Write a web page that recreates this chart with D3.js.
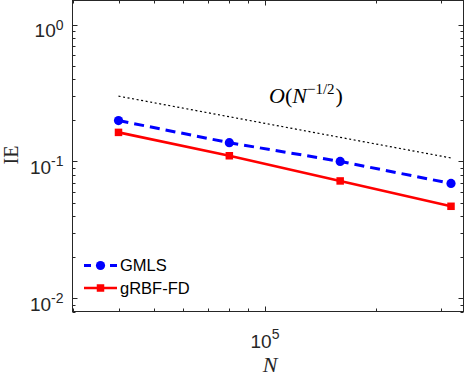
<!DOCTYPE html>
<html>
<head>
<meta charset="utf-8">
<script src="https://cdn.jsdelivr.net/npm/d3@7"></script>
<style>
  body { margin: 0; background: #fff; }
  svg { display: block; }
</style>
</head>
<body>
<svg id="chart" width="465" height="382"></svg>
<script>
// data
const sizesN = [4e4, 8e4, 1.6e5, 3.2e5];
const gmlsIE = [0.199, 0.137, 0.100, 0.069];
const grbfIE = [0.163, 0.110, 0.072, 0.047];
const refN = [4e4, 3.2e5];
const refIE = [0.30, 0.106];
const yTicks = [0.01, 0.1, 1];
const yTickExp = ["-2", "-1", "0"];
const xTicks = [1e5];
const xTickExp = ["5"];
const seriesNames = ["GMLS", "gRBF-FD"];

const svg = d3.select("#chart");
const axisColor = "#262626";
const sans = "'Liberation Sans', Arial, sans-serif";
const serif = "'Liberation Serif', 'Times New Roman', serif";

const plotL = 72.5, plotR = 463.5, plotT = 0.5, plotB = 311.5;

let x = d3.scaleLog().domain([3e4, 3.46e5]).range([plotL, plotR]);
let y = d3.scaleLog().domain([0.008, 1.5]).range([plotB, plotT]);

// minor ticks
let xMinor = [];
for (let d = 1e4; d <= 1e6; d *= 10) {
    for (let k = 1; k < 10; k++) {
        let v = k * d;
        if (v >= 3e4 && v <= 3.46e5) xMinor.push(v);
    }
}
let yMinor = [];
for (let d = 1e-3; d <= 1; d *= 10) {
    for (let k = 1; k < 10; k++) {
        let v = k * d;
        if (v >= 0.008 && v <= 1.5) yMinor.push(v);
    }
}
let isMajor = v => Math.abs(Math.log10(v) - Math.round(Math.log10(v))) < 1e-6;

let tickG = svg.append("g").attr("stroke", axisColor).attr("stroke-width", 1);
for (let v of xMinor) {
    let len = isMajor(v) ? 5 : 3;
    let px = Math.round(x(v)) + 0.5;
    tickG.append("line").attr("x1", px).attr("x2", px).attr("y1", plotB).attr("y2", plotB - len);
    tickG.append("line").attr("x1", px).attr("x2", px).attr("y1", plotT).attr("y2", plotT + len);
}
for (let v of yMinor) {
    let len = isMajor(v) ? 5 : 3;
    let py = Math.round(y(v)) + 0.5;
    tickG.append("line").attr("x1", plotL).attr("x2", plotL + len).attr("y1", py).attr("y2", py);
    tickG.append("line").attr("x1", plotR).attr("x2", plotR - len).attr("y1", py).attr("y2", py);
}

// box
svg.append("rect")
    .attr("x", plotL).attr("y", plotT)
    .attr("width", plotR - plotL).attr("height", plotB - plotT)
    .attr("fill", "none").attr("stroke", axisColor).attr("stroke-width", 1);

// tick labels
yTicks.forEach((v, i) => {
    let t = svg.append("text")
        .attr("x", 63.5).attr("y", y(v) + 12.5)
        .attr("text-anchor", "end")
        .attr("font-family", sans).attr("font-size", 19)
        .attr("fill", axisColor);
    t.append("tspan").text("10");
    t.append("tspan").attr("dy", -7.5).attr("font-size", 14).text(yTickExp[i]);
});
xTicks.forEach((v, i) => {
    let t = svg.append("text")
        .attr("x", x(v)).attr("y", 347.5)
        .attr("text-anchor", "middle")
        .attr("font-family", sans).attr("font-size", 19)
        .attr("fill", axisColor);
    t.append("tspan").text("10");
    t.append("tspan").attr("dy", -8.5).attr("font-size", 14).text(xTickExp[i]);
});

// axis labels
svg.append("text")
    .attr("transform", "translate(17.5,155) rotate(-90)")
    .attr("text-anchor", "middle")
    .attr("font-family", serif).attr("font-size", 20)
    .attr("fill", axisColor)
    .text("IE");
svg.append("text")
    .attr("x", 270).attr("y", 371.5)
    .attr("text-anchor", "middle")
    .attr("font-family", serif).attr("font-style", "italic").attr("font-size", 22)
    .attr("fill", axisColor)
    .text("N");

// reference slope line
let line = d3.line().x(d => x(d[0])).y(d => y(d[1]));
svg.append("path")
    .datum(refN.map((n, i) => [n, refIE[i]]))
    .attr("d", line)
    .attr("fill", "none").attr("stroke", "#000").attr("stroke-width", 1.2)
    .attr("stroke-dasharray", "2,2.6");

let ref = svg.append("text")
    .attr("x", 306).attr("y", 103)
    .attr("text-anchor", "middle")
    .attr("font-family", serif).attr("font-size", 22)
    .attr("fill", "#000");
ref.append("tspan").attr("font-style", "italic").text("O");
ref.append("tspan").text("(");
ref.append("tspan").attr("font-style", "italic").text("N");
ref.append("tspan").attr("dy", -9).attr("font-size", 15).text("\u22121/2");
ref.append("tspan").attr("dy", 9).attr("dx", 1).text(")");

// series
let gmlsData = sizesN.map((n, i) => [n, gmlsIE[i]]);
let grbfData = sizesN.map((n, i) => [n, grbfIE[i]]);

svg.append("path")
    .datum(gmlsData)
    .attr("d", line)
    .attr("fill", "none").attr("stroke", "#0000ff").attr("stroke-width", 3)
    .attr("stroke-dasharray", "10,6");
svg.selectAll(".gmls-pt")
    .data(gmlsData).enter().append("circle")
    .attr("class", "gmls-pt")
    .attr("cx", d => x(d[0])).attr("cy", d => y(d[1]))
    .attr("r", 4.6).attr("fill", "#0000ff");

svg.append("path")
    .datum(grbfData)
    .attr("d", line)
    .attr("fill", "none").attr("stroke", "#ff0000").attr("stroke-width", 2.6);
let sq = 7.5;
svg.selectAll(".grbf-pt")
    .data(grbfData).enter().append("rect")
    .attr("class", "grbf-pt")
    .attr("x", d => x(d[0]) - sq / 2).attr("y", d => y(d[1]) - sq / 2)
    .attr("width", sq).attr("height", sq)
    .attr("fill", "#ff0000");

// legend
let legend = svg.append("g");
let rows = [
    {name: seriesNames[0], color: "#0000ff", dash: "7,6", marker: "circle"},
    {name: seriesNames[1], color: "#ff0000", dash: null, marker: "square"}
];
rows.forEach((r, i) => {
    let cy = 265.5 + i * 22.5;
    legend.append("line")
        .attr("x1", 84).attr("x2", 117).attr("y1", cy).attr("y2", cy)
        .attr("stroke", r.color).attr("stroke-width", r.marker == "circle" ? 3 : 2.6)
        .attr("stroke-dasharray", r.dash);
    if (r.marker == "circle") {
        legend.append("circle").attr("cx", 100.5).attr("cy", cy).attr("r", 4.6).attr("fill", r.color);
    } else {
        legend.append("rect").attr("x", 100.5 - sq / 2).attr("y", cy - sq / 2)
            .attr("width", sq).attr("height", sq).attr("fill", r.color);
    }
    legend.append("text")
        .attr("x", 120).attr("y", cy + 5.8)
        .attr("font-family", sans).attr("font-size", 16.5)
        .attr("fill", "#000")
        .text(r.name);
});
</script>
</body>
</html>
